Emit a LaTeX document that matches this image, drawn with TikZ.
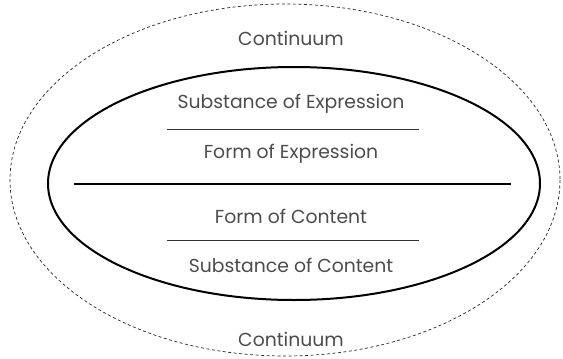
\documentclass[tikz,border=0pt]{standalone}
\usepackage{fontspec}
\setmainfont{Poppins}
\begin{document}
\begin{tikzpicture}[x=1pt,y=-1pt,
  lbl/.style={text=black!70, font=\fontsize{18.8}{22}\selectfont, inner sep=0pt, anchor=center},
  thinline/.style={draw=black!80, line width=0.9pt},
  thickline/.style={draw=black, line width=2.2pt}]
\useasboundingbox (0,0) rectangle (563,359);
\draw[line width=0.7pt, dash pattern=on 3pt off 2.5pt, draw=black!85] (285,180) ellipse [x radius=275, y radius=176];
\draw[line width=2pt] (294,183.5) ellipse [x radius=246, y radius=116.5];
\node[lbl] (c1) at (291,38) {Continuum};
\node[lbl] (se) at (291,104) {Substance of Expression};
\node[lbl] (fe) at (291,154) {Form of Expression};
\node[lbl] (fc) at (291,216) {Form of Content};
\node[lbl] (sc) at (291,265) {Substance of Content};
\node[lbl] (c2) at (291,339) {Continuum};
\coordinate (a1) at (167,129); \coordinate (a2) at (419,129);
\coordinate (b1) at (74,184); \coordinate (b2) at (511,184);
\coordinate (d1) at (167,240); \coordinate (d2) at (419,240);
\draw[thinline] (a1) -- (a2);
\draw[thickline] (b1) -- (b2);
\draw[thinline] (d1) -- (d2);
\end{tikzpicture}
\end{document}
